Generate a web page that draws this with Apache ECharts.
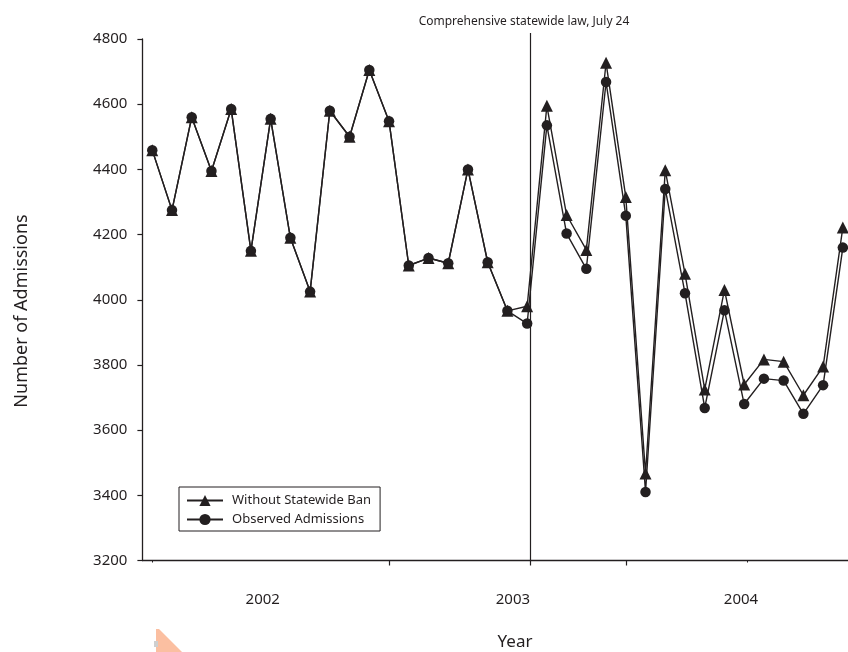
<!DOCTYPE html>
<html>
<head>
<meta charset="utf-8">
<script src="https://cdn.jsdelivr.net/npm/echarts@6/dist/echarts.min.js"></script>
<style>
  html, body { margin: 0; padding: 0; background: #fff; }
  #chart { width: 848px; height: 652px; }
</style>
</head>
<body>
<div id="chart"></div>
<script>
// Month index 0 = Jan 2002 ... 35 = Dec 2004
const months = Array.from({length: 36}, (_, i) => i);
const withoutBan = [4459, 4275, 4560, 4395, 4585, 4150, 4555, 4190, 4025, 4580, 4500, 4705,
                    4548, 4105, 4128, 4112, 4400, 4115, 3966, 3980, 4595, 4260, 4153, 4727,
                    4315, 3467, 4397, 4080, 3725, 4030, 3740, 3817, 3810, 3707, 3795, 4222];
const observed   = [4459, 4275, 4560, 4395, 4585, 4150, 4555, 4190, 4025, 4580, 4500, 4705,
                    4548, 4105, 4128, 4112, 4400, 4115, 3966, 3927, 4535, 4203, 4095, 4668,
                    4258, 3410, 4340, 4020, 3668, 3968, 3680, 3758, 3752, 3650, 3738, 4160];
const yearLabels = ['2002', '2003', '2004'];
const yearLabelPos = [5.6, 18.28, 29.84];
const majorTickPos = [12, 19.16, 24];
const minorTickPos = [0, 30.14];
const lawPos = 19.16;
const seriesNames = ['Without Statewide Ban', 'Observed Admissions'];

const FONT = 'Noto Sans';
const INK = '#231f20';

const chart = echarts.init(document.getElementById('chart'));
chart.setOption({
  animation: false,
  backgroundColor: '#fff',
  textStyle: { fontFamily: FONT, color: INK },
  grid: { left: 142.4, right: -4.7, top: 39, bottom: 91.5, containLabel: false, outerBoundsMode: 'none' },
  legend: {
    orient: 'vertical',
    left: 179, top: 487,
    padding: [7, 9, 5, 7],
    itemGap: 6,
    itemWidth: 36, itemHeight: 14,
    borderColor: INK, borderWidth: 1,
    textStyle: { fontFamily: FONT, fontSize: 13, color: INK, padding: [0, 0, 0, 4] },
    data: seriesNames
  },
  xAxis: [{
    type: 'value', min: -0.5, max: 35.5,
    splitLine: { show: false },
    axisLine: { show: true, onZero: false, lineStyle: { color: INK, width: 1.3 } },
    axisTick: { show: true, customValues: majorTickPos, length: 5, lineStyle: { color: INK, width: 1.2 } },
    axisLabel: {
      customValues: yearLabelPos, margin: 32,
      fontFamily: FONT, fontSize: 15, color: INK,
      formatter: v => { const k = yearLabelPos.findIndex(p => Math.abs(p - v) < 1e-6); return k >= 0 ? yearLabels[k] : ''; }
    }
  }, {
    type: 'value', min: -0.5, max: 35.5, position: 'bottom',
    splitLine: { show: false },
    axisLine: { show: false, onZero: false },
    axisTick: { show: true, customValues: minorTickPos, length: 2, lineStyle: { color: INK, width: 1 } },
    axisLabel: { show: false }
  }, {
    type: 'value', min: -0.5, max: 35.5, position: 'top',
    splitLine: { show: false },
    axisLine: { show: false, onZero: false },
    axisTick: { show: true, customValues: [lawPos], length: 6, lineStyle: { color: INK, width: 1.2 } },
    axisLabel: { show: false }
  }],
  yAxis: {
    type: 'value', min: 3200, max: 4800, interval: 200,
    splitLine: { show: false },
    axisLine: { show: true, onZero: false, lineStyle: { color: INK, width: 1.3 } },
    axisTick: { show: true, length: 5, lineStyle: { color: INK, width: 1.2 } },
    axisLabel: { margin: 15, fontFamily: FONT, fontSize: 15, color: INK, formatter: v => String(v) }
  },
  graphic: [
    { type: 'text', x: 524, y: 21.7, style: { text: 'Comprehensive statewide law, July 24', font: '12px "Noto Sans"', fill: INK, align: 'center', verticalAlign: 'middle' } },
    { type: 'text', x: 515, y: 642, style: { text: 'Year', font: '17px "Noto Sans"', fill: INK, align: 'center', verticalAlign: 'middle' } },
    { type: 'text', x: 22, y: 311, rotation: Math.PI / 2, style: { text: 'Number of Admissions', font: '18px "Noto Sans"', fill: INK, align: 'center', verticalAlign: 'middle' } },
    { type: 'polygon', shape: { points: [[156, 629], [159, 629], [182, 652], [156, 652]] }, style: { fill: '#fbbfa1' } },
    { type: 'rect', shape: { x: 154, y: 641, width: 4, height: 6 }, style: { fill: '#cfcfcf' } }
  ],
  series: [{
    name: seriesNames[0], type: 'line',
    data: months.map(i => [i, withoutBan[i]]),
    symbol: 'triangle', symbolSize: 12, showSymbol: true,
    itemStyle: { color: INK }, lineStyle: { color: INK, width: 1.4 },
    z: 2
  }, {
    name: seriesNames[1], type: 'line',
    data: months.map(i => [i, observed[i]]),
    symbol: 'circle', symbolSize: 10.5, showSymbol: true, clip: false,
    itemStyle: { color: INK }, lineStyle: { color: INK, width: 1.4 },
    z: 3,
    markLine: {
      silent: true, symbol: ['none', 'none'],
      label: { show: false },
      lineStyle: { color: INK, width: 1.2, type: 'solid' },
      data: [[{ coord: [lawPos, 4800] }, { coord: [lawPos, 3200] }]]
    }
  }]
});
</script>
</body>
</html>
